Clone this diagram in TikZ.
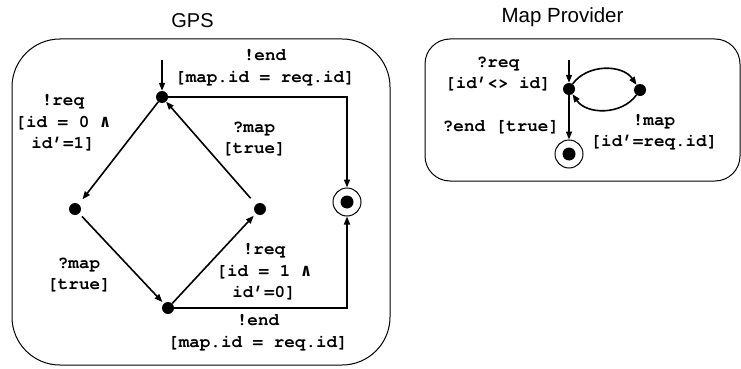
\documentclass[tikz,border=0pt]{standalone}
\usepackage{fontspec}
\setmainfont{Liberation Sans}
\newfontfamily\lblfont{TeX Gyre Cursor}
\newfontfamily\andfont{DejaVu Sans Mono}
\usetikzlibrary{arrows.meta}
\newcommand{\wand}{{\andfont\bfseries ∧}}
\tikzset{
  lbl/.style={font=\lblfont\bfseries\fontsize{17.6}{21.5}\selectfont, align=center, inner sep=0pt},
  ttl/.style={font=\fontsize{20}{24}\selectfont, inner sep=0pt, anchor=base},
  dot/.style={circle, fill=black, inner sep=0pt, minimum size=12pt},
  fin/.style={circle, draw=black, line width=1pt, inner sep=0pt, minimum size=28pt},
  box/.style={draw=black, line width=1pt},
  tr/.style={line width=1.6pt, -{Triangle[length=8pt,width=6pt]}},
}
\begin{document}
\begin{tikzpicture}[x=1pt,y=-1pt]
\useasboundingbox (0,0) rectangle (741,369);
% titles
\node[ttl] (gpsT) at (192.5,28) {GPS};
\node[ttl, font=\fontsize{20.5}{24}\selectfont] (mpT) at (562.5,23) {Map Provider};
% boxes
\draw[box, rounded corners=48pt] (12,39) rectangle (390,365);
\draw[box, rounded corners=25pt] (425,39) rectangle (740,181);
% GPS states
\node[dot] (t) at (162,97) {};
\node[dot] (l) at (75,209) {};
\node[dot] (r) at (260,209) {};
\node[dot] (b) at (168,308) {};
\node[fin] (f) at (347,202) {};
\fill (f.center) circle (6.5pt);
\coordinate (ti) at (162,60);
% GPS transitions
\draw[tr] (ti) -- (t);
\draw[tr, shorten >=6pt] (t) -- (l);
\draw[tr, shorten <=8pt] (r) -- (t);
\draw[tr, shorten <=4pt, shorten >=2pt] (l) -- (b);
\draw[tr, shorten >=3pt] (b) -- (r);
\draw[tr] (t) -| (f);
\draw[tr] (b) -| (f);
% GPS labels
\node[lbl] (l1) at (265,67.5) {!end\\{}[map.id = req.id]};
\node[lbl] (l2) at (63,123) {!req\\{}[id = 0 \wand\\ id’=1]};
\node[lbl] (l3) at (254,139) {?map\\{}[true]};
\node[lbl] (l4) at (79,275) {?map\\{}[true]};
\node[lbl] (l5) at (264,272) {!req\\{}[id = 1 \wand\\ id’=0]};
\node[lbl] (l6) at (258,332.5) {!end\\{}[map.id = req.id]};
% Map Provider states
\node[dot] (m1) at (569,89) {};
\node[dot] (m2) at (640,90) {};
\node[fin] (mf) at (569,154) {};
\fill (mf.center) circle (6.5pt);
\coordinate (mi) at (569,60);
\draw[tr] (mi) -- (m1);
\draw[tr] (m1) to[bend left=55] (m2);
\draw[tr] (m2) to[bend left=55] (m1);
\draw[tr] (m1) -- (mf);
% MP labels
\node[lbl] (k1) at (498,74) {?req\\{}[id’<> id]};
\node[lbl] (k2) at (501,127) {?end [true]};
\node[lbl] (k3) at (654,132) {!map\\{}[id’=req.id]};
\end{tikzpicture}
\end{document}
